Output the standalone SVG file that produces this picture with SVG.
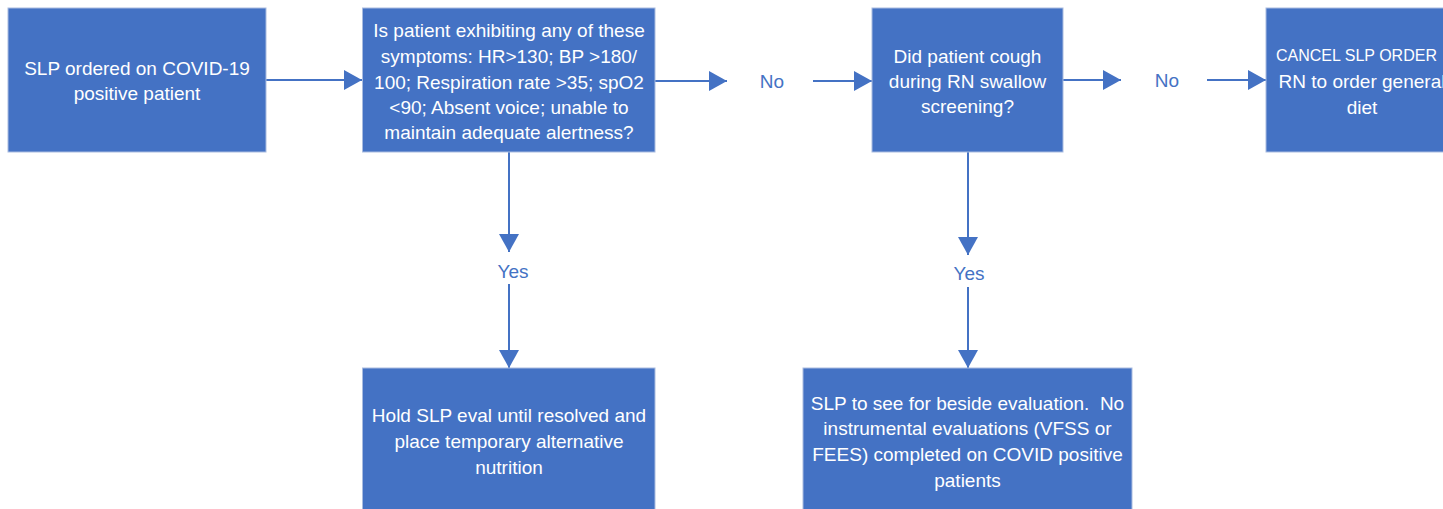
<svg xmlns="http://www.w3.org/2000/svg" width="1443" height="509" viewBox="0 0 1443 509">
<style>
.box{fill:#4472C4;stroke:#A9BCE0;stroke-width:1}
.t{font-family:"Liberation Sans",Arial,sans-serif;font-size:19px;fill:#ffffff;text-anchor:middle;dominant-baseline:central}
.lbl{font-family:"Liberation Sans",Arial,sans-serif;font-size:19px;fill:#4472C4;text-anchor:middle;dominant-baseline:central}
.c{fill:none;stroke:#4472C4;stroke-width:2;marker-end:url(#ah)}
</style>
<defs>
<marker id="ah" markerUnits="userSpaceOnUse" markerWidth="18" markerHeight="20" viewBox="0 0 18 20" refX="18" refY="10" orient="auto">
<path d="M0,0 L18,10 L0,20 Z" fill="#4472C4"/>
</marker>
</defs>
<rect width="1443" height="509" fill="#ffffff"/>
<g id="connectors">
<path class="c" d="M266,80 H362"/>
<path class="c" d="M655,81 H727"/>
<path class="c" d="M813,81 H872"/>
<path class="c" d="M1063,80 H1121"/>
<path class="c" d="M1207,80 H1266"/>
<path class="c" d="M509,152 V252"/>
<path class="c" d="M509,284 V368"/>
<path class="c" d="M968,152 V255"/>
<path class="c" d="M968,287 V368"/>
</g>
<g id="labels">
<text class="lbl" x="772" y="81">No</text>
<text class="lbl" x="1167" y="80">No</text>
<text class="lbl" x="513" y="271">Yes</text>
<text class="lbl" x="969" y="273">Yes</text>
</g>
<g id="n1">
<rect class="box" x="8" y="8" width="258" height="144"/>
<text class="t" x="137" y="68">SLP ordered on COVID-19</text>
<text class="t" x="137" y="93">positive patient</text>
</g>
<g id="n2">
<rect class="box" x="362.5" y="8" width="292.5" height="144"/>
<text class="t" x="509" y="30">Is patient exhibiting any of these</text>
<text class="t" x="509" y="56">symptoms: HR&gt;130; BP &gt;180/</text>
<text class="t" x="509" y="82">100; Respiration rate &gt;35; spO2</text>
<text class="t" x="509" y="107">&lt;90; Absent voice; unable to</text>
<text class="t" x="509" y="132">maintain adequate alertness?</text>
</g>
<g id="n3">
<rect class="box" x="872" y="8" width="191" height="144"/>
<text class="t" x="967.5" y="56">Did patient cough</text>
<text class="t" x="967.5" y="81">during RN swallow</text>
<text class="t" x="967.5" y="106">screening?</text>
</g>
<g id="n4">
<rect class="box" x="1266" y="8" width="192" height="144"/>
<text class="t" x="1276" y="55" style="text-anchor:start;font-size:16px">CANCEL SLP ORDER</text>
<text class="t" x="1362" y="81">RN to order general</text>
<text class="t" x="1362" y="107">diet</text>
</g>
<g id="n5">
<rect class="box" x="362.5" y="368" width="292.5" height="150"/>
<text class="t" x="509" y="415">Hold SLP eval until resolved and</text>
<text class="t" x="509" y="441">place temporary alternative</text>
<text class="t" x="509" y="467">nutrition</text>
</g>
<g id="n6">
<rect class="box" x="803" y="368" width="329" height="150"/>
<text class="t" x="967.5" y="403" xml:space="preserve">SLP to see for beside evaluation.  No</text>
<text class="t" x="967.5" y="428">instrumental evaluations (VFSS or</text>
<text class="t" x="967.5" y="454">FEES) completed on COVID positive</text>
<text class="t" x="967.5" y="480">patients</text>
</g>
</svg>
